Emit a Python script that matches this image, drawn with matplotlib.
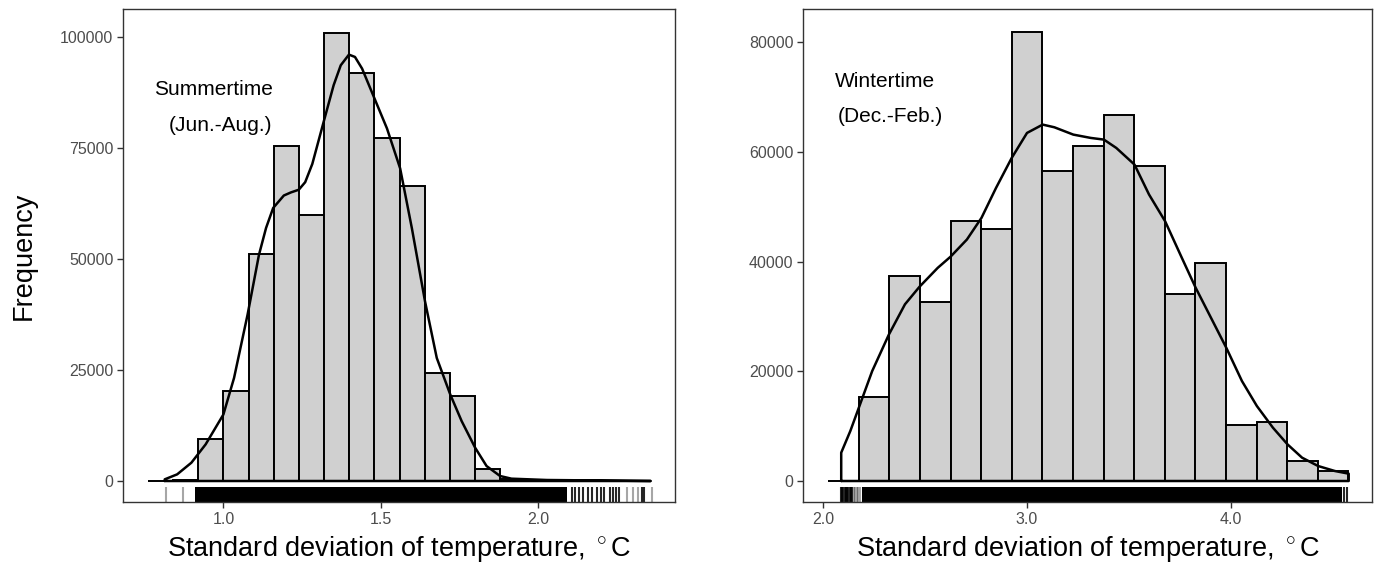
import matplotlib
matplotlib.use("Agg")
import matplotlib.pyplot as plt
import numpy as np

plt.rcParams['font.family'] = ['Liberation Sans', 'DejaVu Sans']
plt.rcParams['mathtext.fontset'] = 'custom'
plt.rcParams['mathtext.rm'] = 'Liberation Sans'

# summer histogram (binwidth 0.08)
summer_edges = [0.76, 0.84, 0.92, 1.00, 1.08, 1.16, 1.24, 1.32, 1.40, 1.48, 1.56,
                1.64, 1.72, 1.80, 1.88, 1.96, 2.04, 2.12, 2.20, 2.28, 2.36]
summer_counts = [5, 300, 9363, 20375, 51161, 75356, 59925, 100974, 91910, 77303,
                 66517, 24270, 19101, 2622, 400, 120, 60, 40, 20, 10]

# summer density (scaled to counts)
summer_dens_x = [0.8136, 0.8531, 0.8983, 0.9435, 1.0000, 1.0339, 1.0768, 1.1130, 1.1356,
                 1.1582, 1.1921, 1.2147, 1.2395, 1.2599, 1.2825, 1.3186, 1.3503, 1.3729,
                 1.3989, 1.4181, 1.4407, 1.4802, 1.5198, 1.5616, 1.5989, 1.6407, 1.6780,
                 1.7209, 1.7571, 1.8000, 1.8362, 1.8791, 1.9153, 2.0282, 2.1412, 2.2542, 2.358]
summer_dens_y = [375, 1498, 4120, 8240, 14981, 23221, 37453, 50936, 57000,
                 61500, 64300, 65000, 65600, 67300, 71400, 80899, 89139, 93633,
                 96030, 95506, 92884, 86142, 79401, 70412, 56929, 40449, 27715,
                 19476, 13483, 7491, 3371, 1124, 524, 225, 150, 75, 0]

# summer rug
summer_rug_band = [0.910, 2.091]
summer_rug_dark = [2.107, 2.118, 2.131, 2.144, 2.160, 2.171, 2.186, 2.199, 2.210,
                   2.229, 2.237, 2.247, 2.258, 2.331, 2.337]
summer_rug_light = [0.817, 0.873, 2.282, 2.301, 2.316, 2.361]

# winter histogram (binwidth 0.15)
winter_edges = [2.025, 2.175, 2.325, 2.475, 2.625, 2.775, 2.925, 3.075, 3.225, 3.375,
                3.525, 3.675, 3.825, 3.975, 4.125, 4.275, 4.425, 4.575]
winter_counts = [0, 15296, 37269, 32656, 47345, 45948, 81821, 56449, 61062, 66646,
                 57420, 34112, 39757, 10197, 10804, 3642, 1821]

winter_dens_x = [2.0893, 2.1339, 2.1786, 2.2411, 2.3232, 2.4018, 2.4732, 2.5625, 2.6250,
                 2.7054, 2.7768, 2.8482, 2.9250, 3.0000, 3.0768, 3.1339, 3.2268, 3.3125,
                 3.3768, 3.4375, 3.5268, 3.5982, 3.6768, 3.7589, 3.8268, 3.9018, 3.9768,
                 4.0536, 4.1268, 4.2054, 4.2768, 4.3482, 4.4268, 4.5089, 4.5768]
winter_dens_y = [5159, 9105, 13657, 20030, 26707, 32200, 35405, 38847, 40868,
                 44006, 47951, 53414, 58877, 63429, 64947, 64461, 63126, 62519,
                 62215, 60698, 57663, 52200, 47344, 40668, 35205, 29742, 24279,
                 18209, 13657, 9712, 6677, 4249, 2731, 1821, 1335]

winter_rug_band = [2.19, 4.543]
winter_rug_dark = [2.087, 2.092, 2.097, 2.108, 2.112, 2.116, 2.124, 2.130, 2.136,
                   2.144, 4.556, 4.567]
winter_rug_light = [2.152, 2.158, 2.165, 2.173, 2.181]


def panel(ax, edges, counts, dx, dy, band, dark, light, xlim, ylim, xticks, yticks, labels, label_pos):
    edges = np.array(edges)
    ax.bar(edges[:-1], counts, width=np.diff(edges), align='edge',
           color='#d0d0d0', edgecolor='black', linewidth=1.4, zorder=2)
    px = [dx[0]] + list(dx) + [dx[-1], dx[0]]
    py = [0] + list(dy) + [0, 0]
    ax.plot(px, py, color='black', linewidth=1.8, zorder=3,
            solid_joinstyle='round', solid_capstyle='round')
    trans = ax.get_xaxis_transform()
    ax.axvspan(band[0], band[1], ymin=0, ymax=0.03, color='black', linewidth=0, zorder=2)
    ax.vlines(dark, 0, 0.03, transform=trans, color='black', alpha=0.85, linewidth=1.5)
    ax.vlines(light, 0, 0.03, transform=trans, color='black', alpha=0.35, linewidth=1.5)
    for lab, (tx, ty) in zip(labels, label_pos):
        ax.text(tx, ty, lab, ha='left', va='center', fontsize=15)
    ax.set_xlim(xlim)
    ax.set_ylim(ylim)
    ax.set_xticks(xticks)
    ax.set_xticklabels(['%.1f' % t for t in xticks])
    ax.set_yticks(yticks)
    ax.set_yticklabels([str(t) for t in yticks])
    ax.tick_params(direction='out', length=4, width=1, color='#333333',
                   labelcolor='#4d4d4d', labelsize=11.5, pad=3)
    for s in ax.spines.values():
        s.set_color('#333333')
        s.set_linewidth(1.0)
    ax.set_xlabel(r'Standard deviation of temperature, $^\circ$C', fontsize=19.5, labelpad=5)


fig = plt.figure(figsize=(13.79, 5.70), dpi=100)
ax1 = fig.add_axes([123 / 1379, 68 / 570, 552 / 1379, 493 / 570])
ax2 = fig.add_axes([803 / 1379, 68 / 570, 569 / 1379, 493 / 570])

panel(ax1, summer_edges, summer_counts, summer_dens_x, summer_dens_y,
      summer_rug_band, summer_rug_dark, summer_rug_light,
      (0.681, 2.435), (-4730, 106306), [1.0, 1.5, 2.0],
      [0, 25000, 50000, 75000, 100000],
      ['Summertime', '(Jun.-Aug.)'], [(0.780, 88240), (0.825, 80150)])
ax1.set_ylabel('Frequency', fontsize=19.5, labelpad=17)

panel(ax2, winter_edges, winter_counts, winter_dens_x, winter_dens_y,
      winter_rug_band, winter_rug_dark, winter_rug_light,
      (1.902, 4.691), (-3827, 86014), [2.0, 3.0, 4.0],
      [0, 20000, 40000, 60000, 80000],
      ['Wintertime', '(Dec.-Feb.)'], [(2.059, 72838), (2.071, 66464)])

fig.savefig('out.png', dpi=100)
